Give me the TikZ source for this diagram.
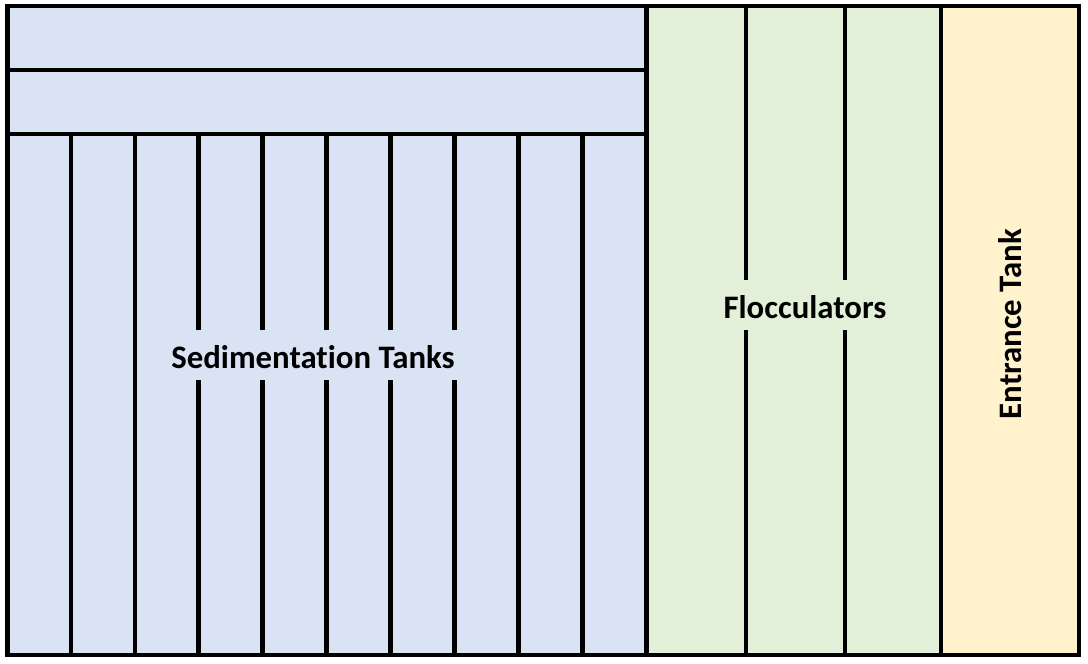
\documentclass[tikz,border=0pt]{standalone}
\usepackage{fontspec}
\setmainfont[Ligatures=NoCommon]{Carlito}
\definecolor{sedblue}{HTML}{DAE3F3}
\definecolor{flocgreen}{HTML}{E2F0D9}
\definecolor{entyellow}{HTML}{FFF2CC}
\begin{document}
\begin{tikzpicture}[x=1pt,y=-1pt,
  wall/.style={line width=4.8pt,black},
  label/.style={font=\fontsize{32.8}{39}\selectfont\bfseries,inner sep=0pt}]
\useasboundingbox (0,0) rectangle (1088,664);
% fills
\fill[sedblue] (7.5,6) rectangle (646.5,655);
\fill[flocgreen] (646.5,6) rectangle (941,655);
\fill[entyellow] (941,6) rectangle (1079,655);
% horizontal walls in sedimentation area
\draw[wall] (7.5,70) -- (646.5,70);
\draw[wall] (7.5,134) -- (646.5,134);
% sedimentation vertical walls (full)
\foreach \x in {71,135,518.5,582.5}
  \draw[wall] (\x,134) -- (\x,655);
% sedimentation vertical walls with gap for label
\foreach \x in {198.5,262.5,326.5,390.5,454.5}{
  \draw[wall] (\x,134) -- (\x,330);
  \draw[wall] (\x,380) -- (\x,655);
}
% flocculator walls with gap
\foreach \x in {746,845}{
  \draw[wall] (\x,6) -- (\x,280);
  \draw[wall] (\x,330) -- (\x,655);
}
% main dividers
\draw[wall] (646.5,6) -- (646.5,655);
\draw[wall] (941,6) -- (941,655);
% outer border
\draw[wall] (7.5,6) rectangle (1079,655);
% labels
\node[label] (sed) at (313,357) {Sedimentation Tanks};
\node[label] (floc) at (805,307) {Flocculators};
\node[label,rotate=90] (ent) at (1010,324) {Entrance Tank};
\end{tikzpicture}
\end{document}
